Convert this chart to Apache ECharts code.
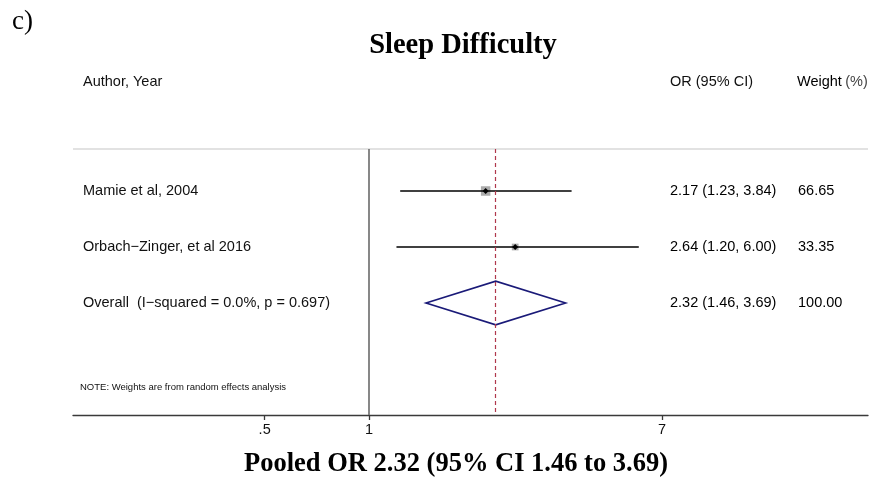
<!DOCTYPE html>
<html>
<head>
<meta charset="utf-8">
<script src="https://cdn.jsdelivr.net/npm/echarts@6/dist/echarts.min.js"></script>
<style>
  html, body { margin: 0; padding: 0; background: #fff; }
  #chart { width: 873px; height: 492px; }
</style>
</head>
<body>
<div id="chart"></div>
<script>
// ---- Data ----
const studies = ['Mamie et al, 2004', 'Orbach\u2212Zinger, et al 2016'];
const studyOR = [2.17, 2.64];
const studyLow = [1.23, 1.20];
const studyHigh = [3.84, 6.00];
const studyWeight = [66.65, 33.35];
const overallLabel = 'Overall  (I\u2212squared = 0.0%, p = 0.697)';
const overallOR = 2.32;
const overallLow = 1.46;
const overallHigh = 3.69;
const overallWeight = 100.00;
const tickValues = [0.5, 1, 7];
const tickLabels = ['.5', '1', '7'];
const xRange = [0.14, 27.5];

const studyRows = [1, 2];
const overallRow = 3;
const headerRow = -0.95;
const noteRow = 4.5;
const yRange = [0.25, 5];

const ln = Math.log;
const fmt = v => v.toFixed(2);

const studyData = studies.map((s, i) => [ln(studyLow[i]), ln(studyHigh[i]), ln(studyOR[i]), studyRows[i], studyWeight[i]]);
const overallData = [[ln(overallLow), ln(overallHigh), ln(overallOR), overallRow]];
const maxW = Math.max.apply(null, studyWeight);

const chart = echarts.init(document.getElementById('chart'), null, { renderer: 'canvas' });

const sansFont = '"Liberation Sans", Arial, Helvetica, sans-serif';
const serifFont = '"Liberation Serif", "Times New Roman", serif';

chart.setOption({
  animation: false,
  backgroundColor: '#ffffff',
  grid: { left: 73, right: 5, top: 149, bottom: 77, containLabel: false },
  xAxis: {
    type: 'value',
    min: ln(xRange[0]),
    max: ln(xRange[1]),
    splitLine: { show: false },
    axisLine: { show: true, onZero: false, lineStyle: { color: '#3a3a3a', width: 1.3 } },
    axisTick: { show: true, length: 5, lineStyle: { color: '#3a3a3a', width: 1.3 }, customValues: tickValues.map(ln) },
    axisLabel: {
      show: true,
      customValues: tickValues.map(ln),
      color: '#111',
      fontFamily: sansFont,
      fontSize: 14.5,
      margin: 7,
      formatter: function (v) {
        let best = 0, bd = Infinity;
        tickValues.forEach((t, i) => { const d = Math.abs(ln(t) - v); if (d < bd) { bd = d; best = i; } });
        return tickLabels[best];
      }
    }
  },
  yAxis: {
    type: 'value', inverse: true, min: yRange[0], max: yRange[1],
    show: false, splitLine: { show: false }
  },
  series: [
    {
      type: 'custom',
      name: 'studies',
      data: studyData,
      encode: { x: [0, 1, 2], y: 3 },
      renderItem: function (params, api) {
        const y = api.value(3);
        const lo = api.coord([api.value(0), y]);
        const hi = api.coord([api.value(1), y]);
        const est = api.coord([api.value(2), y]);
        const side = 9.5 * Math.sqrt(api.value(4) / maxW);
        const d = 3;
        return {
          type: 'group',
          children: [
            { type: 'rect', shape: { x: est[0] - side / 2, y: est[1] - side / 2, width: side, height: side }, style: { fill: '#ababab' } },
            { type: 'line', shape: { x1: lo[0], y1: lo[1], x2: hi[0], y2: hi[1] }, style: { stroke: '#000', lineWidth: 1.5 } },
            { type: 'polygon', shape: { points: [[est[0] - d, est[1]], [est[0], est[1] - d], [est[0] + d, est[1]], [est[0], est[1] + d]] }, style: { fill: '#000' } }
          ]
        };
      },
      markLine: {
        silent: true,
        symbol: 'none',
        label: { show: false },
        data: [
          { yAxis: yRange[0], lineStyle: { color: '#d9d9d9', width: 1.6, type: 'solid' } },
          { xAxis: 0, lineStyle: { color: '#6a6a6a', width: 1.6, type: 'solid' } },
          { xAxis: ln(overallOR), lineStyle: { color: '#b0384c', width: 1.2, type: [4, 3] } }
        ]
      },
      z: 3
    },
    {
      type: 'custom',
      name: 'overall',
      data: overallData,
      encode: { x: [0, 1, 2], y: 3 },
      renderItem: function (params, api) {
        const y = api.value(3);
        const lo = api.coord([api.value(0), y]);
        const hi = api.coord([api.value(1), y]);
        const est = api.coord([api.value(2), y]);
        const hh = api.size([0, 0.39])[1];
        return {
          type: 'polygon',
          shape: { points: [[lo[0], lo[1]], [est[0], est[1] - hh], [hi[0], hi[1]], [est[0], est[1] + hh]] },
          style: { fill: 'none', stroke: '#1a1a78', lineWidth: 1.6 }
        };
      },
      z: 4
    }
  ]
});

// ---- Text table placed at the rows of the y scale ----
function rowY(r) { return chart.convertToPixel({ gridIndex: 0 }, [0, r])[1]; }
function txt(text, x, y, size, opts) {
  return {
    type: 'text', silent: true,
    style: Object.assign({
      text: text, x: x, y: y,
      font: size + 'px ' + sansFont,
      fill: '#111', align: 'left', verticalAlign: 'middle'
    }, opts || {})
  };
}

const nameX = 83, estX = 670, wX = 798;
const g = [];
g.push(txt('c)', 12, 22, 27, { font: '27px ' + serifFont, fill: '#000' }));
g.push(txt('Sleep Difficulty', 463, 46, 28.5, { font: 'bold 28.5px ' + serifFont, fill: '#000', align: 'center' }));
g.push(txt('Pooled OR ' + fmt(overallOR) + ' (95% CI ' + fmt(overallLow) + ' to ' + fmt(overallHigh) + ')', 456, 464, 26.5,
  { font: 'bold 26.5px ' + serifFont, fill: '#000', align: 'center' }));

const hy = rowY(headerRow);
g.push(txt('Author, Year', nameX, hy, 14.5));
g.push(txt('OR (95% CI)', estX, hy, 14.5));
g.push({
  type: 'text', silent: true,
  style: {
    text: '{a|Weight} {b|(%)}', x: 797, y: hy, align: 'left', verticalAlign: 'middle',
    rich: {
      a: { font: '14.5px ' + sansFont, fill: '#000' },
      b: { font: '14.5px ' + sansFont, fill: '#444' }
    }
  }
});

studies.forEach((s, i) => {
  const y = rowY(studyRows[i]);
  g.push(txt(s, nameX, y, 14.5));
  g.push(txt(fmt(studyOR[i]) + ' (' + fmt(studyLow[i]) + ', ' + fmt(studyHigh[i]) + ')', estX, y, 14.5, { fill: '#000' }));
  g.push(txt(fmt(studyWeight[i]), wX, y, 14.5, { fill: '#000' }));
});
const oy = rowY(overallRow);
g.push(txt(overallLabel, nameX, oy, 14.5));
g.push(txt(fmt(overallOR) + ' (' + fmt(overallLow) + ', ' + fmt(overallHigh) + ')', estX, oy, 14.5, { fill: '#000' }));
g.push(txt(fmt(overallWeight), wX, oy, 14.5, { fill: '#000' }));
g.push(txt('NOTE: Weights are from random effects analysis', 80, rowY(noteRow), 9.5));

chart.setOption({ graphic: { elements: g } });
</script>
</body>
</html>
